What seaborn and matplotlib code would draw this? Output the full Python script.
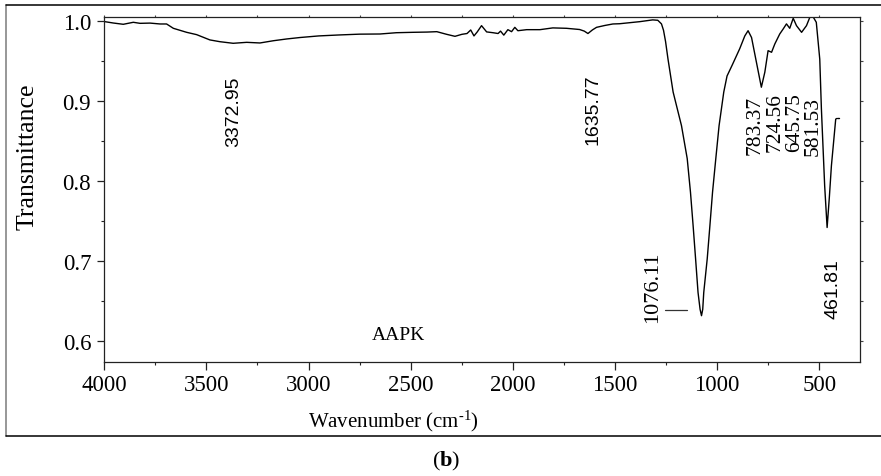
import matplotlib
matplotlib.use("Agg")
import matplotlib.pyplot as plt
from matplotlib.ticker import MultipleLocator, FixedLocator, NullFormatter
from matplotlib.lines import Line2D
import numpy as np
import pandas as pd
import seaborn as sns

# ---- data ----
wavenumber = [3998, 3956, 3907, 3858, 3825, 3776, 3727, 3695, 3662, 3597, 3548, 3483,
              3434, 3369, 3303, 3238, 3172, 3107, 3042, 2950, 2850, 2750, 2650, 2570,
              2489, 2420, 2372, 2324, 2283, 2249, 2224, 2206, 2190, 2174, 2153, 2128,
              2097, 2072, 2060, 2044, 2024, 2006, 1990, 1975, 1932, 1867, 1804, 1737,
              1673, 1650, 1632, 1610, 1590, 1550, 1510, 1477, 1378, 1315, 1290, 1272,
              1262, 1252, 1240, 1215, 1174, 1146, 1130, 1117, 1105, 1093, 1083, 1076,
              1070, 1065, 1048, 1035, 1022, 1006, 990, 967, 951, 925, 889, 864, 848,
              831, 807, 783, 766, 750, 733, 717, 693, 676, 660, 644, 627, 611, 586,
              562, 546, 530, 514, 497, 489, 473, 461, 450, 440, 419, 415]
transmittance = [0.9988, 0.9971, 0.9955, 0.9980, 0.9967, 0.9970, 0.9959, 0.9959, 0.9905,
                 0.9855, 0.9826, 0.9760, 0.9738, 0.9718, 0.9730, 0.9722, 0.9750, 0.9772,
                 0.9790, 0.9810, 0.9822, 0.9832, 0.9834, 0.9850, 0.9855, 0.9858, 0.9863,
                 0.9830, 0.9805, 0.9830, 0.9840, 0.9884, 0.9810, 0.9860, 0.9938, 0.9860,
                 0.9850, 0.9840, 0.9870, 0.9820, 0.9888, 0.9863, 0.9917, 0.9875, 0.9888,
                 0.9888, 0.9910, 0.9905, 0.9890, 0.9870, 0.9840, 0.9885, 0.9917, 0.9940,
                 0.9959, 0.9962, 0.9988, 1.0010, 1.0005, 0.9960,
                 0.9880, 0.9740, 0.9520, 0.9110, 0.8690, 0.8280, 0.7860, 0.7440, 0.7030,
                 0.6610, 0.6400, 0.6320, 0.6400, 0.6610, 0.7030, 0.7440, 0.7860, 0.8280,
                 0.8690, 0.9110, 0.9310, 0.9450, 0.9650, 0.9810, 0.9875,
                 0.9790, 0.9480, 0.9170, 0.9357, 0.9626, 0.9606, 0.9710, 0.9834, 0.9897,
                 0.9960, 0.9905, 1.0030, 0.9938, 0.9855, 0.9938, 1.0040, 1.0050, 0.9980,
                 0.9520, 0.8900, 0.7940, 0.7420, 0.7800, 0.8190, 0.8770, 0.8780]
tail_wavenumber = [415, 403]
tail_transmittance = [0.878, 0.878]

peak_labels = ["3372.95", "1635.77", "1076.11", "783.37", "724.56", "645.75", "581.53", "461.81"]
sample_name = "AAPK"
x_major = [4000, 3500, 3000, 2500, 2000, 1500, 1000, 500]
y_major = [0.6, 0.7, 0.8, 0.9, 1.0]

# label placement (data coords) and font
label_place = {
    "3372.95": (3368, 0.888, "sans", 14),
    "1635.77": (1605, 0.890, "sans", 14),
    "1076.11": (1317, 0.669, "serif", 16),
    "783.37": (815, 0.871, "serif", 15.5),
    "724.56": (717, 0.874, "serif", 15.5),
    "645.75": (620, 0.874, "serif", 15.5),
    "581.53": (529, 0.869, "serif", 15.5),
    "461.81": (431, 0.667, "sans", 14),
}

sns.set_theme(style="ticks")
plt.rcParams['font.family'] = ['Liberation Serif', 'DejaVu Serif']
plt.rcParams['mathtext.fontset'] = 'custom'
plt.rcParams['mathtext.rm'] = 'Liberation Serif'
plt.rcParams['mathtext.it'] = 'Liberation Serif:italic'
plt.rcParams['mathtext.bf'] = 'Liberation Serif:bold'

W, H = 881, 477
fig = plt.figure(figsize=(W / 100, H / 100), dpi=100)
fig.patch.set_facecolor("white")
L, R, T, B = 104.3, 860.0, 18.0, 362.7
ax = fig.add_axes([L / W, 1 - B / H, (R - L) / W, (B - T) / H])
ax.set_facecolor("white")

df = pd.DataFrame({"wn": wavenumber, "T": transmittance})
sns.lineplot(data=df, x="wn", y="T", ax=ax, color="black", lw=1.0,
             estimator=None, sort=False)
ax.plot(tail_wavenumber, tail_transmittance, color="black", lw=1.0)

ax.set_xlim(4000, 300)
ax.set_ylim(0.5746, 1.0046)
ax.set_xlabel("")
ax.set_ylabel("")

ax.xaxis.set_major_locator(FixedLocator(x_major))
ax.xaxis.set_minor_locator(MultipleLocator(250))
ax.yaxis.set_major_locator(FixedLocator(y_major))
ax.yaxis.set_minor_locator(MultipleLocator(0.05))
ax.set_xticklabels([str(v) for v in x_major])
ax.set_yticklabels([f"{v:.1f}" for v in y_major])
ax.tick_params(which="major", direction="out", length=5.4, width=0.9, color="#222222",
               labelsize=16.5, labelcolor="black")
ax.tick_params(axis="x", which="major", pad=3.5)
ax.tick_params(axis="y", which="major", pad=4)
ax.tick_params(which="minor", direction="out", length=2.3, width=0.8, color="#222222")

for s in ax.spines.values():
    s.set_color("#222222")
    s.set_linewidth(0.9)

# small ticks on the top and right spines
sec_x = ax.secondary_xaxis("top")
sec_x.xaxis.set_major_locator(MultipleLocator(250))
sec_x.xaxis.set_major_formatter(NullFormatter())
sec_x.tick_params(direction="out", length=1.8, width=0.8, color="#444444")
sec_x.spines["top"].set_visible(False)
sec_y = ax.secondary_yaxis("right")
sec_y.yaxis.set_major_locator(MultipleLocator(0.05))
sec_y.yaxis.set_major_formatter(NullFormatter())
sec_y.tick_params(direction="out", length=1.8, width=0.8, color="#444444")
sec_y.spines["right"].set_visible(False)

# peak annotations
for lab in peak_labels:
    x, y, fam, fs = label_place[lab]
    family = ['Liberation Sans', 'DejaVu Sans'] if fam == "sans" else ['Liberation Serif', 'DejaVu Serif']
    ax.text(x, y, lab, rotation=90, ha="center", va="center", fontsize=fs,
            family=family, color="black")
ax.plot([1257, 1149], [0.6397, 0.6397], color="#333333", lw=0.9)

ax.text(2558, 0.609, sample_name, ha="center", va="center", fontsize=14, color="black")

# axis titles
fig.text(28 / W, 1 - 157 / H, "Transmittance", rotation=90, ha="center", va="center",
         fontsize=18.5, color="black")
fig.text(393.4 / W, 1 - 421 / H, "Wavenumber (cm$^{\u20101}$)", ha="center", va="center",
         fontsize=15, color="black")

# outer frame (right side runs off the image)
fig.add_artist(Line2D([6 / W, 6 / W], [1 - 6 / H, 1 - 437.3 / H], transform=fig.transFigure,
                      color="#7a7a7a", lw=1.1))
fig.add_artist(Line2D([6 / W, 1.0], [1 - 6 / H, 1 - 6 / H], transform=fig.transFigure,
                      color="black", lw=1.1))
fig.add_artist(Line2D([6 / W, 1.0], [1 - 437.3 / H, 1 - 437.3 / H], transform=fig.transFigure,
                      color="black", lw=1.1))

# caption
fig.text(446 / W, 1 - 461 / H, r"($\mathbf{b}$)", ha="center", va="center",
         fontsize=16, color="black")

fig.savefig("out.png", dpi=100, facecolor="white")
